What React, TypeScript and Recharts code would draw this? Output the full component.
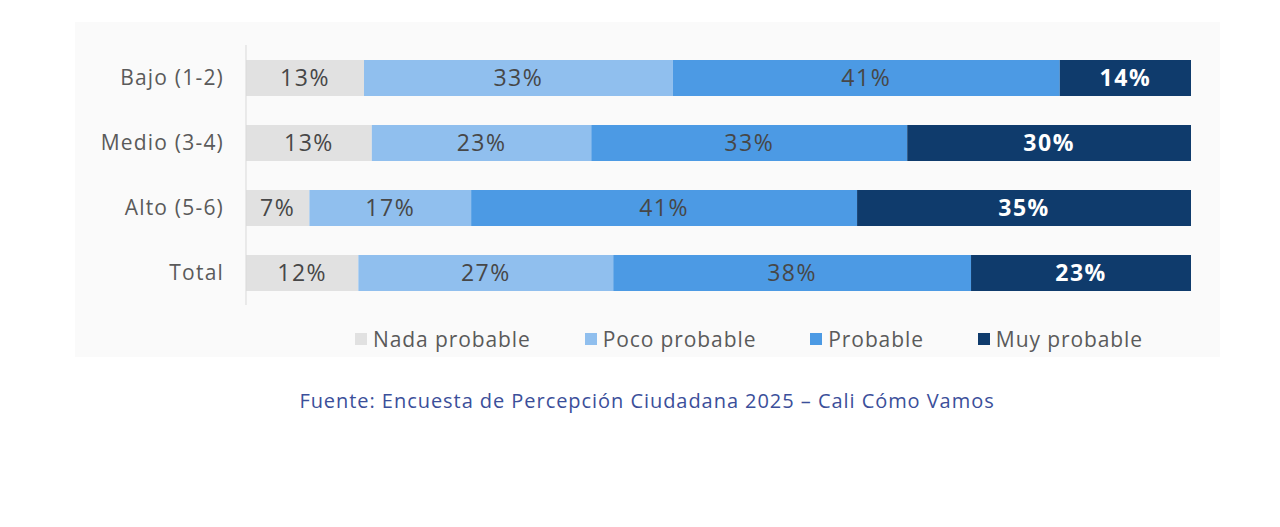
import { Bar, BarChart, LabelList, XAxis, YAxis } from 'recharts';

const categories = ['Bajo (1-2)', 'Medio (3-4)', 'Alto (5-6)', 'Total'];
const nada = [12.5, 13.3, 6.7, 11.9];
const poco = [32.7, 23.2, 17.1, 27.0];
const probable = [41.0, 33.4, 40.8, 37.9];
const muy = [13.9, 30.0, 35.3, 23.3];

const series = [
  { key: 'nada', name: 'Nada probable', color: '#e1e1e1', text: '#474747' },
  { key: 'poco', name: 'Poco probable', color: '#90bfee', text: '#474747' },
  { key: 'probable', name: 'Probable', color: '#4c9ae4', text: '#474747' },
  { key: 'muy', name: 'Muy probable', color: '#0f3b6c', text: '#ffffff' },
];

const data = categories.map((name, i) => ({
  name,
  nada: nada[i],
  poco: poco[i],
  probable: probable[i],
  muy: muy[i],
}));

const font = '"Open Sans", Lato, sans-serif';

function LegendRow() {
  return (
    <div style={{ display: 'flex', gap: 54, fontFamily: font }}>
      {series.map((s) => (
        <div key={s.key} style={{ display: 'flex', alignItems: 'center', gap: 6 }}>
          <span style={{ width: 12, height: 12, background: s.color, display: 'inline-block' }} />
          <span style={{ fontSize: 21, letterSpacing: 0.9, color: '#5a5a5a' }}>{s.name}</span>
        </div>
      ))}
    </div>
  );
}

export default function App() {
  return (
    <div style={{ position: 'absolute', left: 0, top: 0, width: 1280, height: 527, background: '#fff' }}>
      <div style={{ position: 'absolute', left: 75, top: 22, width: 1145, height: 335, background: '#fafafa' }} />
      <div style={{ position: 'absolute', left: 0, top: 0 }}>
        <BarChart
          width={1280}
          height={527}
          data={data}
          layout="vertical"
          stackOffset="expand"
          margin={{ top: 45, right: 89, bottom: 222, left: 76 }}
          barSize={36}
        >
          <XAxis type="number" hide domain={[0, 1]} />
          <YAxis
            type="category"
            dataKey="name"
            width={170}
            tickLine={false}
            axisLine={{ stroke: '#d9d9d9' }}
            tick={{ fill: '#5a5a5a', fontSize: 21, fontFamily: font, letterSpacing: 1.2 }}
            tickMargin={16}
          />
          {series.map((s) => (
            <Bar key={s.key} dataKey={s.key} name={s.name} stackId="a" fill={s.color} isAnimationActive={false}>
              <LabelList
                dataKey={s.key}
                position="center"
                formatter={(v: number) => `${Math.round(v)}%`}
                fill={s.text}
                fontSize={23}
                fontFamily={font}
                letterSpacing={1.5}
                fontWeight={s.key === 'muy' ? 700 : 500}
              />
            </Bar>
          ))}
        </BarChart>
      </div>
      <div style={{ position: 'absolute', left: 355, top: 325 }}>
        <LegendRow />
      </div>
      <div
        style={{
          position: 'absolute',
          left: 0,
          width: 1294,
          top: 387,
          textAlign: 'center',
          fontFamily: font,
          fontSize: 20,
          letterSpacing: 0.95,
          color: '#3b4f9a',
        }}
      >
        Fuente: Encuesta de Percepción Ciudadana 2025 – Cali Cómo Vamos
      </div>
    </div>
  );
}
